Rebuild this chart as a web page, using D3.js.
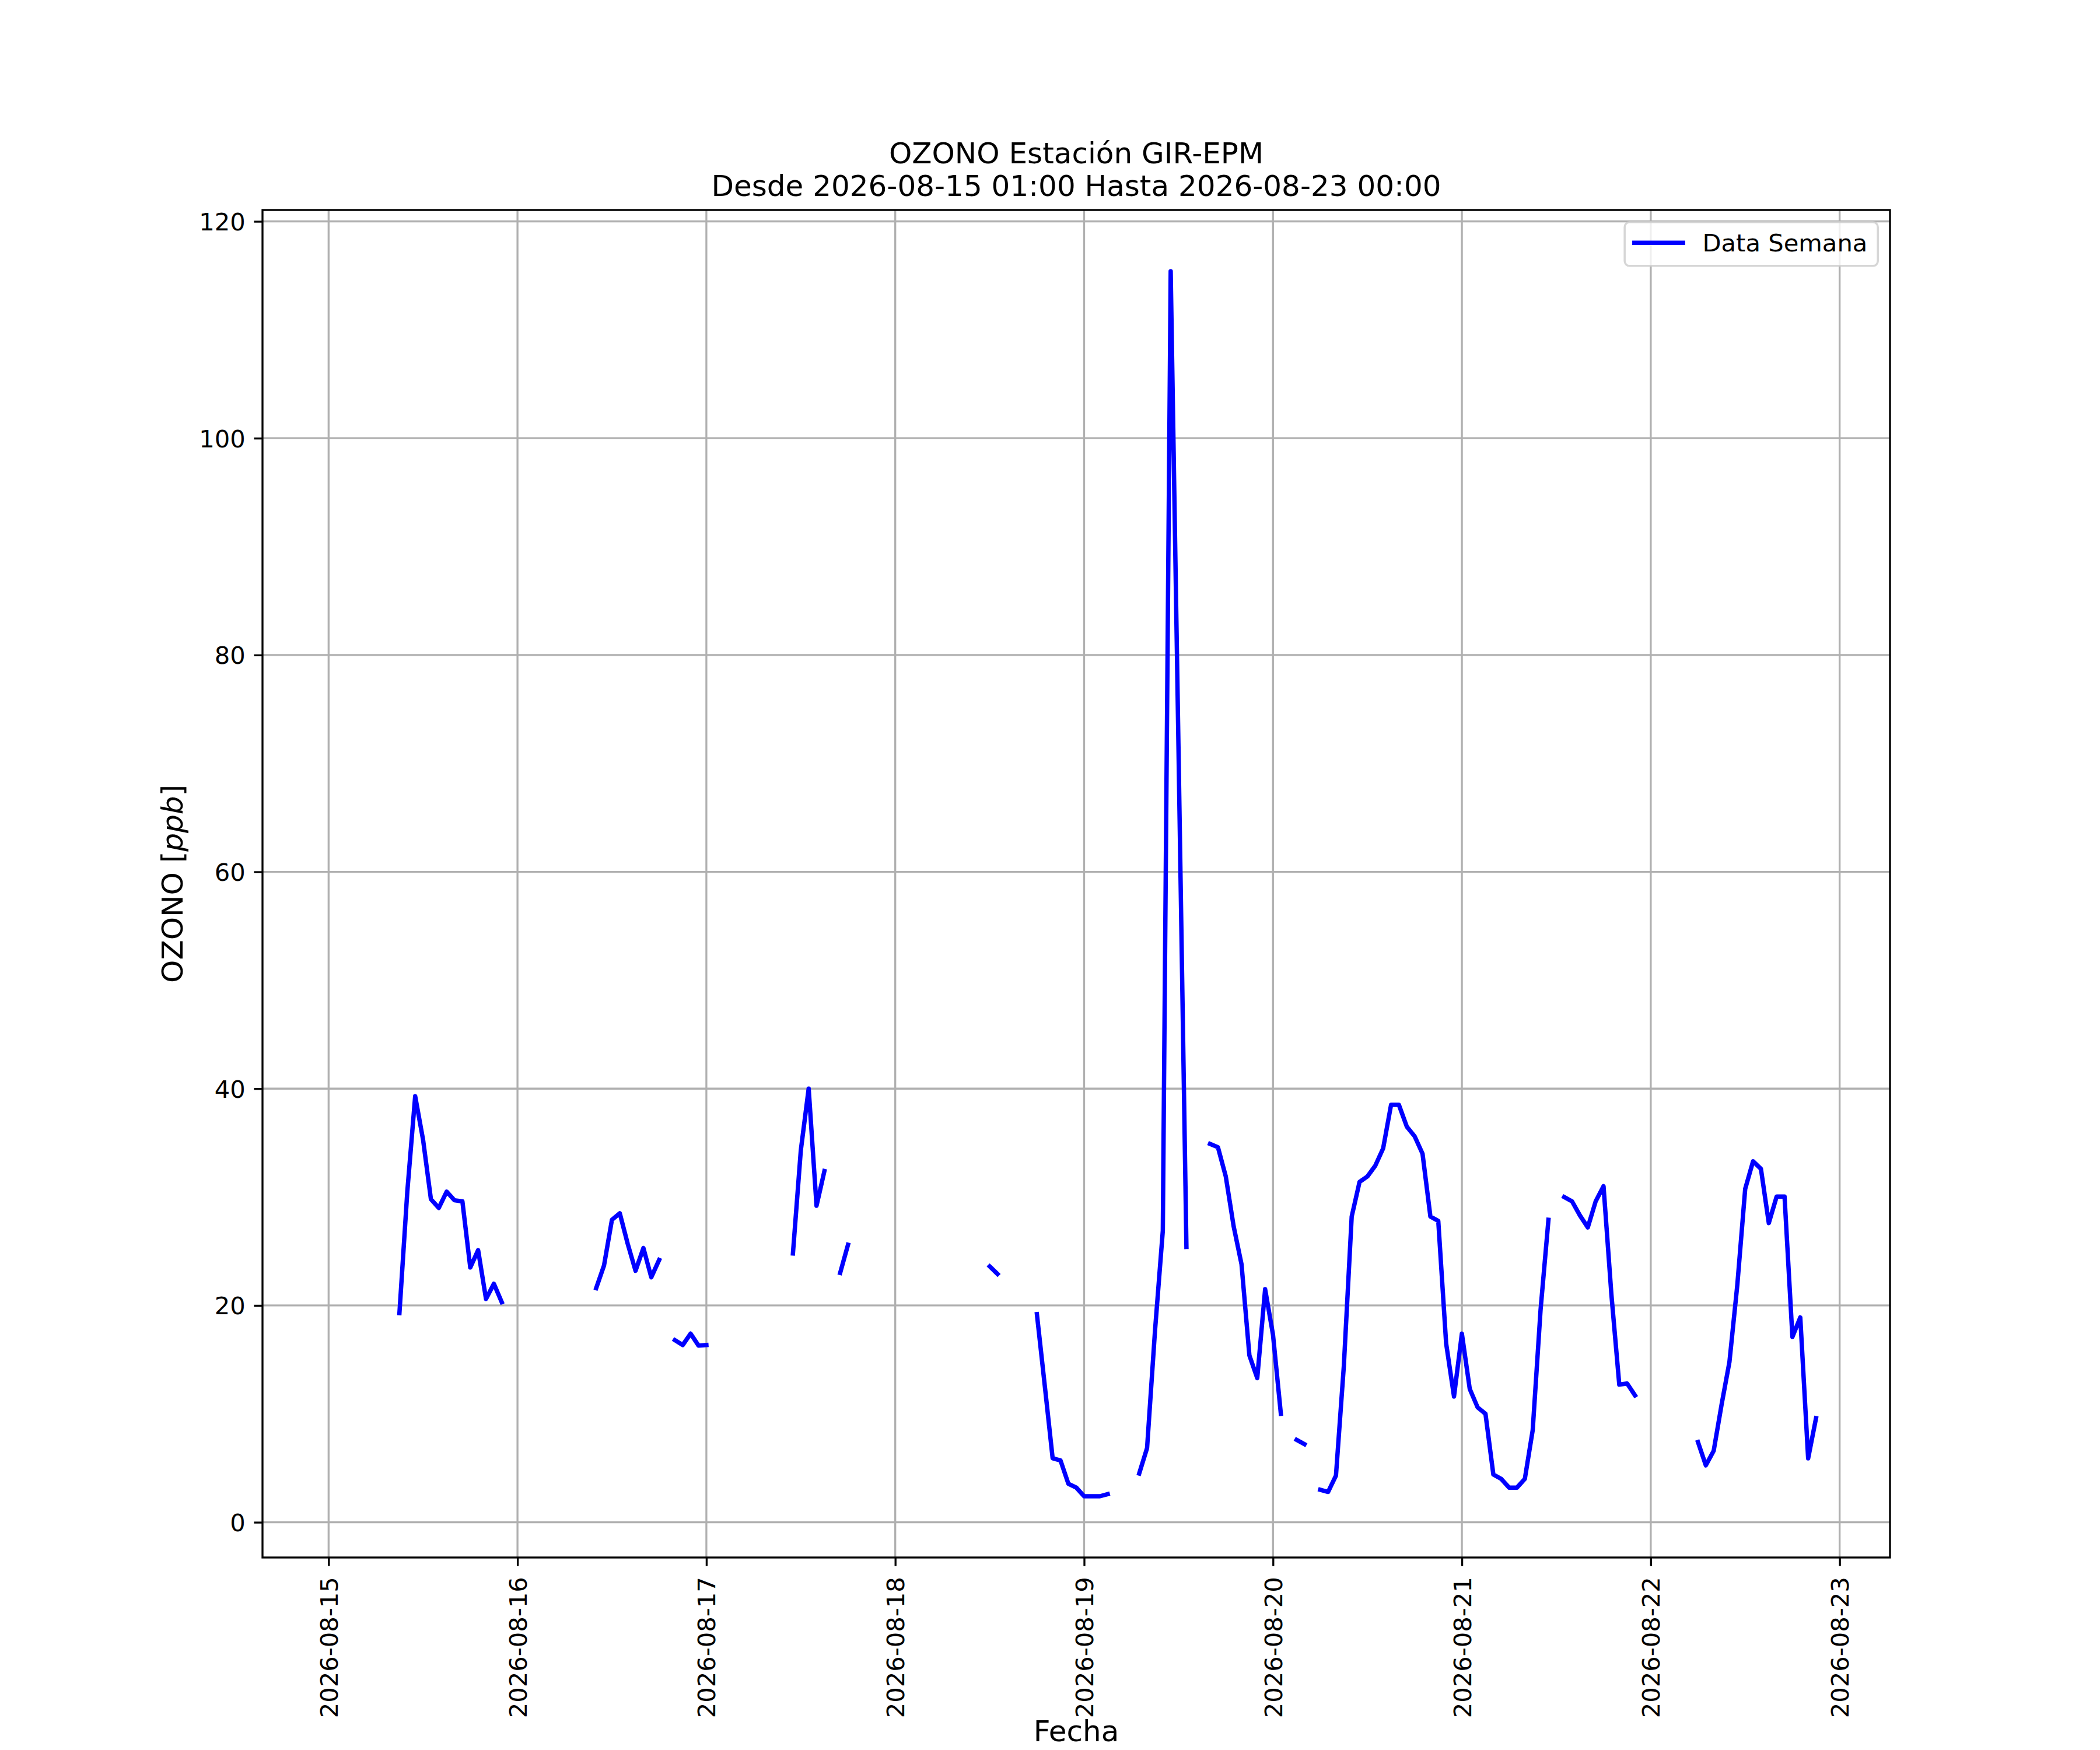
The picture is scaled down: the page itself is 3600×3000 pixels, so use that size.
<!DOCTYPE html>
<html>
<head>
<meta charset="utf-8">
<script src="https://cdn.jsdelivr.net/npm/d3@7"></script>
<style>
  html, body { margin: 0; padding: 0; background: #fff; }
  svg { display: block; font-family: "DejaVu Sans", sans-serif; }
</style>
</head>
<body>
<svg id="chart" width="3600" height="3000"></svg>
<script>
// ---------------- DATA ----------------
const titleLine1 = "OZONO Estación GIR-EPM";
const titleLine2 = "Desde 2026-08-15 01:00 Hasta 2026-08-23 00:00";
const xLabel = "Fecha";
const yLabelMain = "OZONO ";
const yLabelUnit = "ppb";
const legendLabel = "Data Semana";

const seriesStart = "2026-08-15T01:00:00Z"; // hourly series
// hourly ozone values (ppb); null = missing
const day15 = [null, null, null, null, null, null, null, null,            // 01-08
  19.3, 30.5, 39.3, 35.3, 29.8, 29.0, 30.5, 29.7, 29.6, 23.5, 25.1, 20.6, 22.0, 20.3, // 09-22
  null];                                                                  // 23
const day16 = [null, null, null, null, null, null, null, null, null, null, // 00-09
  21.6, 23.7, 27.9, 28.5, 25.7, 23.2, 25.3, 22.6, 24.2,                   // 10-18
  null, 16.8, 16.35, 17.4, 16.3];                                         // 19-23
const day17 = [16.35, null, null, null, null, null, null, null, null, null, null, // 00-10
  24.8, 34.3, 40.0, 29.2, 32.4, null, 23.0, 25.6,                         // 11-18
  null, null, null, null, null];                                          // 19-23
const day18 = [null, null, null, null, null, null, null, null, null, null, null, null, // 00-11
  23.6, 22.9, null, null, null, null,                                     // 12-17
  19.2, 12.6, 5.9, 5.7, 3.55, 3.2];                                       // 18-23
const day19 = [2.4, 2.4, 2.4, 2.6, null, null, null,                      // 00-06
  4.5, 6.85, 17.6, 26.9, 115.4, 71.0, 25.4, null, null,                   // 07-15
  34.9, 34.6, 31.9, 27.3, 23.8, 15.4, 13.3, 21.5];                        // 16-23
const day20 = [17.3, 10.0, null, 7.6, 7.2, null,                          // 00-05
  3.0, 2.8, 4.3, 14.4, 28.2, 31.4, 31.9, 32.9, 34.5, 38.5, 38.5, 36.5,    // 06-17
  35.6, 34.0, 28.2, 27.8, 16.5, 11.6];                                    // 18-23
const day21 = [17.4, 12.3, 10.6, 10.0, 4.4, 4.0, 3.2, 3.2, 4.0, 8.5, 19.6, 27.9, // 00-11
  null, 30.0, 29.6, 28.3, 27.2, 29.6, 31.0, 21.0, 12.7, 12.8, 11.7,       // 12-22
  null];                                                                  // 23
const day22 = [null, null, null, null, null, null,                        // 00-05
  7.4, 5.25, 6.6, 10.85, 14.8, 21.9, 30.75, 33.3, 32.6, 27.6, 30.05, 30.05, // 06-17
  17.1, 18.9, 5.9, 9.6,                                                   // 18-21
  null, null];                                                            // 22-23
const day23 = [null];                                                     // 00

const yTicks = [0, 20, 40, 60, 80, 100, 120];
const xTickLabels = ["2026-08-15", "2026-08-16", "2026-08-17", "2026-08-18", "2026-08-19",
  "2026-08-20", "2026-08-21", "2026-08-22", "2026-08-23"];

// ---------------- BUILD ----------------
const values = [].concat(day15, day16, day17, day18, day19, day20, day21, day22, day23);
const t0 = new Date(seriesStart);
const data = values.map((v, i) => ({ t: new Date(t0.getTime() + i * 3600e3), v: v }));

const W = 3600, H = 3000;
const PT = 300 / 72; // px per point at 300 dpi
const ax = { left: 0.125 * W, right: 0.9 * W, top: 0.12 * H, bottom: 0.89 * H };

// autoscale like matplotlib (5% margins)
const defined = data.filter(d => d.v !== null);
const xFirst = data[0].t.getTime();
const xLast = defined[defined.length - 1].t.getTime();
const xPad = (xLast - xFirst) * 0.05;
const yExt = d3.extent(defined, d => d.v);
const yPad = (yExt[1] - yExt[0]) * 0.05;

const x = d3.scaleUtc()
  .domain([new Date(xFirst - xPad), new Date(xLast + xPad)])
  .range([ax.left, ax.right]);
const y = d3.scaleLinear()
  .domain([yExt[0] - yPad, yExt[1] + yPad])
  .range([ax.bottom, ax.top]);

const parseDay = d3.utcParse("%Y-%m-%d");
const xTickDates = xTickLabels.map(parseDay);

const svg = d3.select("#chart");
svg.append("rect").attr("width", W).attr("height", H).attr("fill", "#fff");

const tickFont = 10 * PT;   // 41.67px
const labelFont = 12 * PT;  // 50px
const tickLen = 3.5 * PT;
const tickPad = 3.5 * PT;
const thin = 0.8 * PT;
const lineW = 7.5;

// grid
const grid = svg.append("g");
grid.selectAll(".gx").data(xTickDates).join("line")
  .attr("x1", d => x(d)).attr("x2", d => x(d))
  .attr("y1", ax.top).attr("y2", ax.bottom)
  .attr("stroke", "#b0b0b0").attr("stroke-width", thin);
grid.selectAll(".gy").data(yTicks).join("line")
  .attr("x1", ax.left).attr("x2", ax.right)
  .attr("y1", d => y(d)).attr("y2", d => y(d))
  .attr("stroke", "#b0b0b0").attr("stroke-width", thin);

// data line
const line = d3.line()
  .defined(d => d.v !== null)
  .x(d => x(d.t))
  .y(d => y(d.v));
svg.append("path")
  .datum(data)
  .attr("d", line)
  .attr("fill", "none")
  .attr("stroke", "#0000ff")
  .attr("stroke-width", lineW)
  .attr("stroke-linejoin", "round")
  .attr("stroke-linecap", "square");

// axes
const yAxis = d3.axisLeft(y).tickValues(yTicks).tickSize(tickLen).tickPadding(tickPad).tickFormat(d3.format("d"));
const gy = svg.append("g").attr("transform", `translate(${ax.left},0)`).call(yAxis);
gy.select(".domain").remove();
gy.selectAll(".tick line").attr("stroke", "#000").attr("stroke-width", thin);
gy.selectAll(".tick text")
  .attr("font-size", tickFont).attr("font-family", "DejaVu Sans")
  .attr("fill", "#000").attr("dy", null).attr("dominant-baseline", null)
  .attr("y", 0.36 * tickFont);

const xAxis = d3.axisBottom(x).tickValues(xTickDates).tickSize(tickLen).tickPadding(tickPad)
  .tickFormat((d, i) => xTickLabels[i]);
const gx = svg.append("g").attr("transform", `translate(0,${ax.bottom})`).call(xAxis);
gx.select(".domain").remove();
gx.selectAll(".tick line").attr("stroke", "#000").attr("stroke-width", thin);
gx.selectAll(".tick text")
  .attr("font-size", tickFont).attr("font-family", "DejaVu Sans").attr("fill", "#000")
  .attr("x", null).attr("y", null).attr("dy", null)
  .attr("text-anchor", "end")
  .attr("transform", `translate(${0.36 * tickFont},${tickLen + tickPad + 4}) rotate(-90)`);

// spines
svg.append("rect")
  .attr("x", ax.left).attr("y", ax.top)
  .attr("width", ax.right - ax.left).attr("height", ax.bottom - ax.top)
  .attr("fill", "none").attr("stroke", "#000").attr("stroke-width", thin);

// titles & labels
const cx = (ax.left + ax.right) / 2;
svg.append("text").attr("x", cx).attr("y", 280).attr("text-anchor", "middle")
  .attr("font-size", labelFont).text(titleLine1);
svg.append("text").attr("x", cx).attr("y", 336).attr("text-anchor", "middle")
  .attr("font-size", labelFont).text(titleLine2);
svg.append("text").attr("x", cx).attr("y", 2985).attr("text-anchor", "middle")
  .attr("font-size", labelFont).text(xLabel);

const yl = svg.append("text")
  .attr("transform", `translate(313,${(ax.top + ax.bottom) / 2}) rotate(-90)`)
  .attr("text-anchor", "middle").attr("font-size", labelFont);
yl.append("tspan").text(yLabelMain + "[");
yl.append("tspan").attr("font-style", "italic").text(yLabelUnit);
yl.append("tspan").text("]");

// legend
const lgW = 434, lgH = 75;
const lgX = ax.right - 0.5 * tickFont - lgW, lgY = ax.top + 0.5 * tickFont;
const lg = svg.append("g");
lg.append("rect").attr("x", lgX).attr("y", lgY).attr("width", lgW).attr("height", lgH)
  .attr("rx", 0.2 * tickFont).attr("ry", 0.2 * tickFont)
  .attr("fill", "#fff").attr("fill-opacity", 0.8)
  .attr("stroke", "#cccccc").attr("stroke-opacity", 0.8).attr("stroke-width", 1.0 * PT * 0.85);
const hx0 = lgX + 0.4 * tickFont, hx1 = hx0 + 2.0 * tickFont, hy = lgY + lgH / 2 - 2;
lg.append("line").attr("x1", hx0).attr("x2", hx1).attr("y1", hy).attr("y2", hy)
  .attr("stroke", "#0000ff").attr("stroke-width", lineW).attr("stroke-linecap", "square");
lg.append("text").attr("x", hx1 + 0.8 * tickFont).attr("y", hy + 0.36 * tickFont)
  .attr("font-size", tickFont).attr("fill", "#000").text(legendLabel);
</script>
</body>
</html>
